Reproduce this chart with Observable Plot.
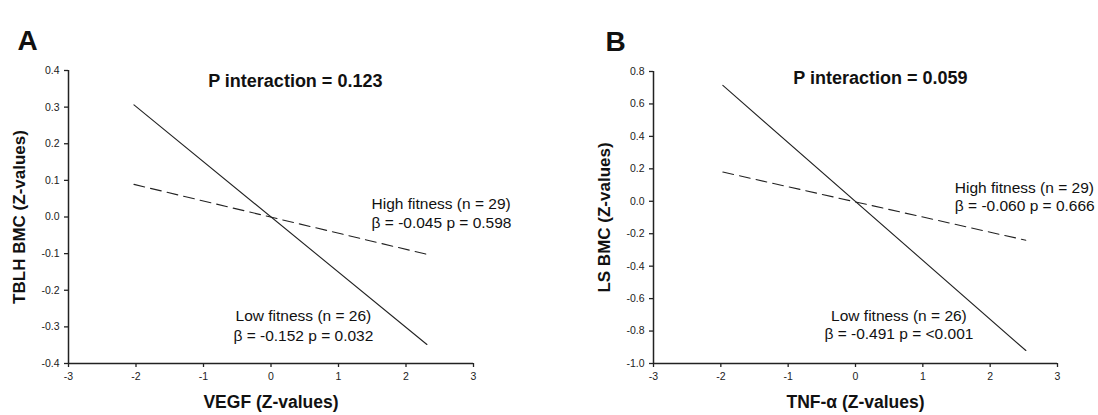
<!DOCTYPE html>
<html>
<head>
<meta charset="utf-8">
<script src="https://cdn.jsdelivr.net/npm/d3@7"></script>
<script src="https://cdn.jsdelivr.net/npm/@observablehq/plot@0.6"></script>
<style>
  html, body { margin: 0; padding: 0; background: #fff; }
  #wrap { width: 1098px; height: 415px; display: flex; font-family: "Liberation Sans", Arial, sans-serif; color: #222; }
  .panel { width: 549px; height: 415px; }
</style>
</head>
<body>
<div id="wrap">
  <div class="panel" id="pA"></div>
  <div class="panel" id="pB"></div>
</div>
<script>
// ---- Panel A data ----
const xA = [-2.03, 2.31];
const lowA = [0.306, -0.348];
const highA = [0.089, -0.102];
const xTicksA = [-3, -2, -1, 0, 1, 2, 3];
const yTicksA = [-0.4, -0.3, -0.2, -0.1, 0.0, 0.1, 0.2, 0.3, 0.4];
const letterA = "A";
const titleA = "P interaction = 0.123";
const highLabelA = ["High fitness (n = 29)", "β = -0.045 p = 0.598"];
const lowLabelA = ["Low fitness (n = 26)", "β = -0.152 p = 0.032"];
const yLabelA = "TBLH BMC (Z-values)";
const xLabelA = "VEGF (Z-values)";

// ---- Panel B data ----
const xB = [-1.97, 2.53];
const lowB = [0.714, -0.92];
const highB = [0.18, -0.24];
const xTicksB = [-3, -2, -1, 0, 1, 2, 3];
const yTicksB = [-1.0, -0.8, -0.6, -0.4, -0.2, 0.0, 0.2, 0.4, 0.6, 0.8];
const letterB = "B";
const titleB = "P interaction = 0.059";
const highLabelB = ["High fitness (n = 29)", "β = -0.060 p = 0.666"];
const lowLabelB = ["Low fitness (n = 26)", "β = -0.491 p = <0.001"];
const yLabelB = "LS BMC (Z-values)";
const xLabelB = "TNF-α (Z-values)";

const INK = "#111";

function panel(o) {
  const low = o.x.map((x, i) => ({x, y: o.low[i]}));
  const high = o.x.map((x, i) => ({x, y: o.high[i]}));
  return Plot.plot({
    width: 549, height: 415,
    marginLeft: o.ml, marginRight: o.mr, marginTop: o.mt, marginBottom: o.mb,
    style: "font-family: 'Liberation Sans', Arial, sans-serif;",
    x: {domain: [-3, 3]},
    y: {domain: o.yDomain},
    marks: [
      Plot.axisX({ticks: o.xTicks, tickSize: 4, tickPadding: 5, fontSize: 10.5, tickFormat: d => String(d), label: null, strokeWidth: 1.3}),
      Plot.axisY({ticks: o.yTicks, tickSize: 4, tickPadding: 5, fontSize: 10.5, tickFormat: d => d.toFixed(1), label: null, strokeWidth: 1.3}),
      Plot.ruleX([-3], {strokeWidth: 1.5}),
      Plot.ruleY([o.yDomain[0]], {strokeWidth: 1.5}),
      Plot.line(low, {x: "x", y: "y", stroke: "#222", strokeWidth: 1.1}),
      Plot.line(high, {x: "x", y: "y", stroke: "#222", strokeWidth: 1.1, strokeDasharray: "11,6"}),
      Plot.text([o.letter], {text: d => d, frameAnchor: "top-left", textAnchor: "start", dx: o.letterDx, dy: -40, fontSize: 28, fontWeight: "bold", fill: INK}),
      Plot.text([o.title], {x: [o.titlePos[0]], y: [o.titlePos[1]], text: d => d, fontSize: 18, fontWeight: "bold", fill: INK}),
      Plot.text(o.highLabel, {x: () => o.highPos[0], y: (d, i) => o.highPos[1 + i], text: d => d, textAnchor: "start", fontSize: 15.5, fill: INK}),
      Plot.text(o.lowLabel, {x: () => o.lowPos[0], y: (d, i) => o.lowPos[1 + i], text: d => d, fontSize: 15.5, fill: INK}),
      Plot.text([o.yLabel], {text: d => d, frameAnchor: "left", textAnchor: "middle", rotate: -90, dx: -49, fontSize: 17, fontWeight: "bold", fill: INK}),
      Plot.text([o.xLabel], {x: [0], text: d => d, frameAnchor: "bottom", dy: 44, fontSize: 17.5, fontWeight: "bold", fill: INK})
    ]
  });
}

const A = panel({
  x: xA, low: lowA, high: highA, xTicks: xTicksA, yTicks: yTicksA, yDomain: [-0.4, 0.4],
  ml: 68, mr: 76, mt: 70, mb: 52,
  letter: letterA, letterDx: -51,
  title: titleA, titlePos: [0.36, 0.37],
  highLabel: highLabelA, highPos: [1.49, 0.035, -0.017],
  lowLabel: lowLabelA, lowPos: [0.48, -0.27, -0.325],
  yLabel: yLabelA, xLabel: xLabelA
});
const B = panel({
  x: xB, low: lowB, high: highB, xTicks: xTicksB, yTicks: yTicksB, yDomain: [-1.0, 0.8],
  ml: 104, mr: 41, mt: 71, mb: 52,
  letter: letterB, letterDx: -48,
  title: titleB, titlePos: [0.37, 0.757],
  highLabel: highLabelB, highPos: [1.475, 0.084, -0.03],
  lowLabel: lowLabelB, lowPos: [0.645, -0.71, -0.82],
  yLabel: yLabelB, xLabel: xLabelB
});
document.getElementById("pA").appendChild(A);
document.getElementById("pB").appendChild(B);
</script>
</body>
</html>
